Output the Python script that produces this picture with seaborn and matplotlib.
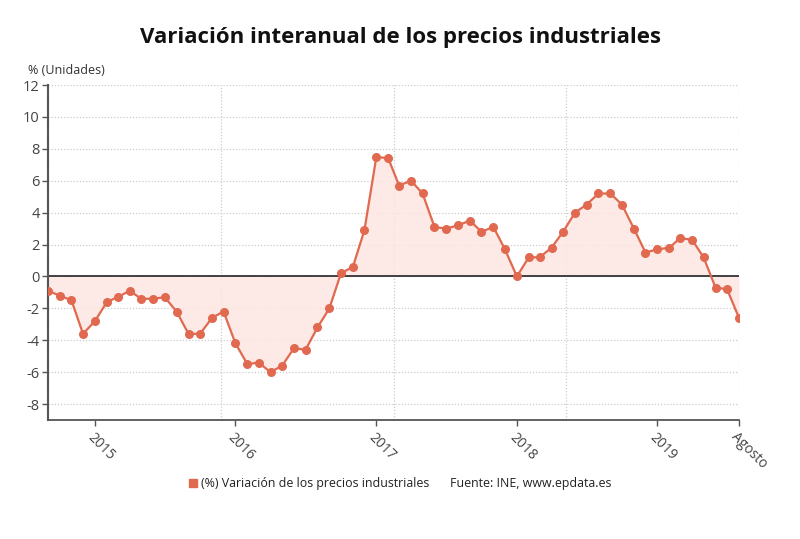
import seaborn as sns
import matplotlib.pyplot as plt
import matplotlib.dates as mdates
import pandas as pd
import numpy as np

# datos: variación interanual (%) sep 2014 - ago 2019
meses = pd.date_range("2014-09-01", "2019-08-01", freq="MS")
valores = [
    -0.9, -1.2, -1.5, -3.6, -2.8, -1.6, -1.3, -0.9, -1.4, -1.4, -1.3, -2.2,
    -3.6, -3.6, -2.6, -2.2, -4.2, -5.5, -5.4, -6.0, -5.6, -4.5, -4.6, -3.2,
    -2.0, 0.2, 0.6, 2.9, 7.5, 7.4, 5.7, 6.0, 5.2, 3.1, 3.0, 3.2,
    3.5, 2.8, 3.1, 1.7, 0.0, 1.2, 1.2, 1.8, 2.8, 4.0, 4.5, 5.2,
    5.2, 4.5, 3.0, 1.5, 1.7, 1.8, 2.4, 2.3, 1.2, -0.7, -0.8, -2.6,
]
etiquetas_x = ["2015", "2016", "2017", "2018", "2019", "Agosto"]
fechas_x = pd.to_datetime(["2015-01-01", "2016-01-01", "2017-01-01",
                           "2018-01-01", "2019-01-01", "2019-08-01"])
yticks = [-8, -6, -4, -2, 0, 2, 4, 6, 8, 10, 12]

COLOR = "#e0694f"
RELLENO = "#fde6e1"

sns.set_style("white")
plt.rcParams['font.family'] = ['Open Sans', 'DejaVu Sans']

df = pd.DataFrame({"fecha": meses, "valor": valores})

fig = plt.figure(figsize=(8, 5.39), dpi=100)
ax = fig.add_axes([48 / 800, 1 - 420 / 539, (739 - 48) / 800, (420 - 85) / 539])

ax.fill_between(df["fecha"], df["valor"], 0, color=RELLENO, alpha=0.85, lw=0, zorder=1)
ax.axhline(0, color="#333333", lw=1.3, zorder=2)
sns.lineplot(data=df, x="fecha", y="valor", ax=ax, color=COLOR, lw=1.6,
             marker="o", markersize=6.5, markeredgewidth=0, zorder=3)

ax.set_xlim(meses[0], meses[-1])
ax.set_ylim(-9, 12)

# rejilla
ax.set_yticks(yticks)
for v in yticks:
    ax.axhline(v, color="#cccccc", lw=0.9, ls=(0, (1, 1.5)), zorder=0)
x0, x1 = mdates.date2num(meses[0]), mdates.date2num(meses[-1])
for xv in np.linspace(x0, x1, 5)[1:]:
    ax.axvline(xv, color="#cccccc", lw=0.9, ls=(0, (1, 1.5)), zorder=0)

ax.set_xticks(fechas_x)
ax.set_xticklabels(etiquetas_x, rotation=-45, ha="left", va="top",
                   rotation_mode="anchor", fontsize=10, color="#444444")
ax.tick_params(axis="x", length=4, width=1, color="#555555", pad=3, bottom=True)
ax.tick_params(axis="y", length=4, width=1, color="#555555", labelsize=10.5,
               labelcolor="#444444", pad=2, left=True)
ax.set_yticklabels([str(v) for v in yticks])
ax.set_xlabel("")
ax.set_ylabel("")

for s in ["top", "right"]:
    ax.spines[s].set_visible(False)
ax.spines["bottom"].set_color("#555555")
ax.spines["bottom"].set_linewidth(1.3)
ax.spines["left"].set_color("#555555")
ax.spines["left"].set_linewidth(1.5)
ax.spines["left"].set_linestyle((0, (1, 0.6)))

fig.text(0.5, 1 - 37 / 539, "Variación interanual de los precios industriales",
         ha="center", va="center", fontsize=16, fontweight="bold", color="#111111")
fig.text(28 / 800, 1 - 70 / 539, "% (Unidades)", ha="left", va="center",
         fontsize=9, color="#333333")

# leyenda
fig.patches.append(plt.Rectangle((189 / 800, 1 - 487 / 539), 8 / 800, 8 / 539,
                                 transform=fig.transFigure, color=COLOR, figure=fig))
fig.text(201 / 800, 1 - 483 / 539, "(%) Variación de los precios industriales",
         ha="left", va="center", fontsize=8.9, color="#222222")
fig.text(450 / 800, 1 - 483 / 539, "Fuente: INE, www.epdata.es",
         ha="left", va="center", fontsize=8.9, color="#222222")

plt.savefig("out.png", dpi=100)
plt.close()
